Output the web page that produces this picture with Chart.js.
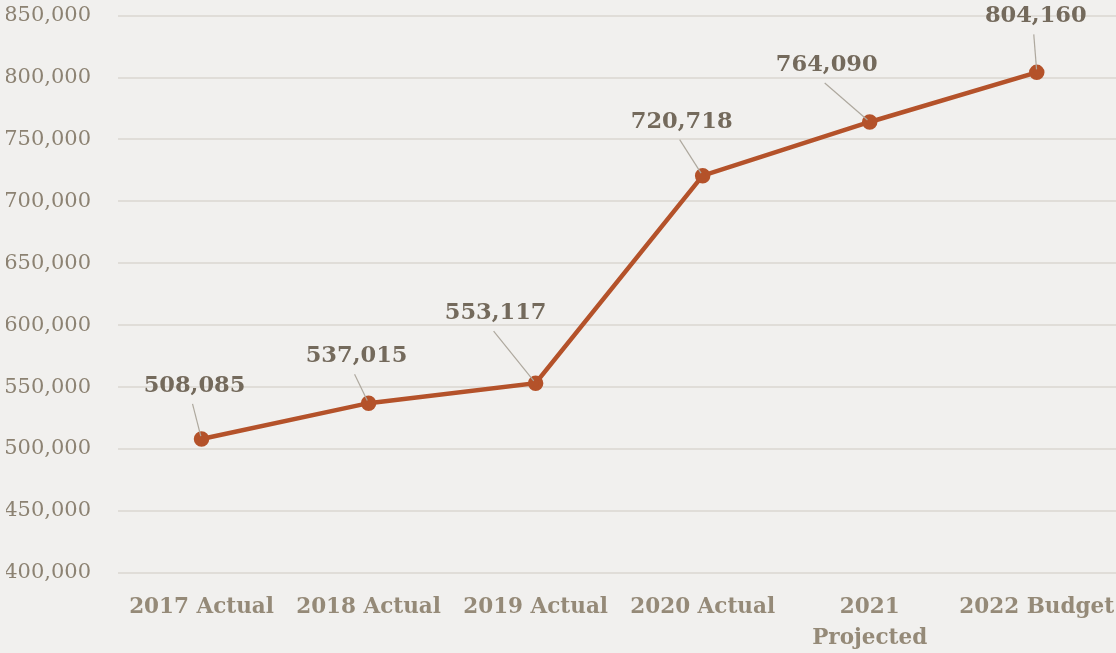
<!DOCTYPE html>
<html>
<head>
<meta charset="utf-8">
<script src="https://cdn.jsdelivr.net/npm/chart.js@4/dist/chart.umd.min.js"></script>
<style>
  html, body { margin: 0; padding: 0; background: #f1f0ee; overflow: hidden; }
  #wrap { width: 1116px; height: 653px; position: relative; overflow: hidden; }
  #inner { position: absolute; left: 0; top: -24px; width: 1135px; height: 697px; }
</style>
</head>
<body>
<div id="wrap"><div id="inner"><canvas id="budget"></canvas></div></div>
<script>
const categories = ['2017 Actual', '2018 Actual', '2019 Actual', '2020 Actual', ['2021', 'Projected'], '2022 Budget'];
const totals = [508085, 537015, 553117, 720718, 764090, 804160];
const yTicks = [400000, 450000, 500000, 550000, 600000, 650000, 700000, 750000, 800000, 850000];

// where each value label sits relative to its point (dx, dy)
const labelOffsets = [[-7, -53], [-12, -47], [-40, -70], [-21, -54], [-43, -57], [-1, -56]];

const calloutLabels = {
    id: 'calloutLabels',
    afterDatasetsDraw(chart) {
        const ctx = chart.ctx;
        const meta = chart.getDatasetMeta(0);
        ctx.save();
        meta.data.forEach((pt, i) => {
            const lx = pt.x + labelOffsets[i][0];
            const ly = pt.y + labelOffsets[i][1];
            // leader line
            const sx = lx - 2, sy = ly + 18;
            const ang = Math.atan2(pt.y - sy, pt.x - sx);
            ctx.strokeStyle = '#aea89e';
            ctx.lineWidth = 1.2;
            ctx.beginPath();
            ctx.moveTo(sx, sy);
            ctx.lineTo(pt.x - Math.cos(ang) * 3, pt.y - Math.sin(ang) * 3);
            ctx.stroke();
            // value text
            ctx.fillStyle = '#746a5c';
            ctx.font = 'bold 22.5px "DejaVu Serif"';
            ctx.textAlign = 'center';
            ctx.textBaseline = 'middle';
            ctx.fillText(totals[i].toLocaleString('en-US'), lx, ly);
        });
        ctx.restore();
    }
};

new Chart(document.getElementById('budget'), {
    type: 'line',
    data: {
        labels: categories,
        datasets: [{
            data: totals,
            borderColor: '#b4522a',
            backgroundColor: '#b4522a',
            borderWidth: 4.5,
            pointRadius: 5.5,
            pointHoverRadius: 5.5,
            tension: 0
        }]
    },
    options: {
        responsive: true,
        maintainAspectRatio: false,
        animation: false,
        layout: { padding: { top: 6, right: 0, bottom: 0, left: 6 } },
        plugins: {
            legend: { display: false },
            tooltip: { enabled: false }
        },
        scales: {
            x: {
                offset: true,
                grid: { display: false, drawTicks: false },
                border: { display: false },
                ticks: {
                    color: '#958a78',
                    font: { family: 'DejaVu Serif', size: 21.5, weight: 'bold', lineHeight: 1.4 },
                    padding: 20,
                    maxRotation: 0,
                    autoSkip: false
                }
            },
            y: {
                min: 400000,
                max: 850000,
                afterBuildTicks(scale) {
                    scale.ticks = yTicks.map(v => ({ value: v }));
                },
                afterFit(scale) {
                    scale.width = 112;
                },
                grid: { color: '#e0ddd8', lineWidth: 2, drawTicks: false },
                border: { display: false },
                ticks: {
                    color: '#8c8272',
                    font: { family: 'DejaVu Serif', size: 21 },
                    padding: 27,
                    callback: v => v.toLocaleString('en-US')
                }
            }
        }
    },
    plugins: [calloutLabels]
});
</script>
</body>
</html>
